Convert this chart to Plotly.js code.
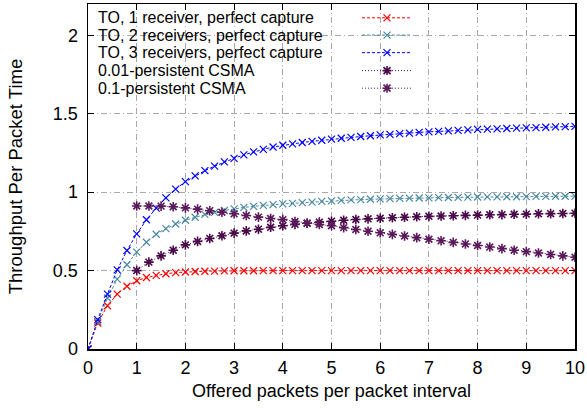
<!DOCTYPE html>
<html>
<head>
<meta charset="utf-8">
<script src="https://cdn.plot.ly/plotly-3.0.1.min.js"></script>
<style>html,body{margin:0;padding:0;background:#fff;}#chart{width:587px;height:408px;}</style>
</head>
<body>
<div id="chart"></div>
<script>
// ---- data ----
const seriesNames = [
  "TO, 1 receiver, perfect capture",
  "TO, 2 receivers, perfect capture",
  "TO, 3 receivers, perfect capture",
  "0.01-persistent CSMA",
  "0.1-persistent CSMA"
];
const xTO = [0,0.2,0.4,0.6,0.8,1,1.2,1.4,1.6,1.8,2,2.2,2.4,2.6,2.8,3,3.2,3.4,3.6,3.8,4,4.2,4.4,4.6,4.8,5,5.2,5.4,5.6,5.8,6,6.2,6.4,6.6,6.8,7,7.2,7.4,7.6,7.8,8,8.2,8.4,8.6,8.8,9,9.2,9.4,9.6,9.8,10];
const to1 = [0,0.166,0.276,0.350,0.400,0.435,0.456,0.470,0.480,0.487,0.491,0.494,0.496,0.497,0.498,0.499,0.499,0.499,0.5,0.5,0.5,0.5,0.5,0.5,0.5,0.5,0.5,0.5,0.5,0.5,0.5,0.5,0.5,0.5,0.5,0.5,0.5,0.5,0.5,0.5,0.5,0.5,0.5,0.5,0.5,0.5,0.5,0.5,0.5,0.5,0.5];
const to2 = [0,0.176,0.325,0.446,0.537,0.618,0.681,0.732,0.768,0.797,0.821,0.840,0.858,0.871,0.883,0.894,0.903,0.910,0.916,0.921,0.925,0.929,0.933,0.937,0.941,0.945,0.948,0.951,0.953,0.955,0.957,0.959,0.960,0.962,0.963,0.964,0.965,0.966,0.967,0.968,0.969,0.970,0.970,0.971,0.971,0.972,0.973,0.973,0.974,0.974,0.975];
const to3 = [0,0.187,0.350,0.505,0.628,0.734,0.824,0.898,0.964,1.020,1.067,1.104,1.137,1.166,1.193,1.216,1.238,1.257,1.273,1.288,1.299,1.308,1.317,1.324,1.331,1.338,1.344,1.350,1.355,1.360,1.365,1.369,1.373,1.377,1.381,1.385,1.388,1.391,1.394,1.397,1.400,1.402,1.404,1.406,1.408,1.410,1.412,1.414,1.416,1.418,1.420];
const xCSMA = [1,1.25,1.5,1.75,2,2.25,2.5,2.75,3,3.25,3.5,3.75,4,4.25,4.5,4.75,5,5.25,5.5,5.75,6,6.25,6.5,6.75,7,7.25,7.5,7.75,8,8.25,8.5,8.75,9,9.25,9.5,9.75,10];
const csma001 = [0.500,0.554,0.594,0.630,0.664,0.686,0.705,0.722,0.739,0.753,0.764,0.776,0.786,0.795,0.802,0.809,0.815,0.821,0.826,0.830,0.834,0.837,0.840,0.843,0.846,0.848,0.850,0.852,0.854,0.856,0.857,0.859,0.860,0.862,0.863,0.864,0.866];
const csma01 = [0.912,0.912,0.911,0.907,0.900,0.892,0.882,0.872,0.862,0.851,0.841,0.832,0.825,0.813,0.802,0.794,0.786,0.774,0.762,0.751,0.741,0.731,0.721,0.710,0.700,0.690,0.680,0.670,0.660,0.650,0.640,0.630,0.621,0.612,0.603,0.594,0.585];
const xTickVals = [0,1,2,3,4,5,6,7,8,9,10];
const yTickVals = [0,0.5,1,1.5,2];
const yTickText = ["0","0.5","1","1.5","2"];

// ---- styles ----
const colors = ["#ff0000", "#4a8aa0", "#0000ff", "#4a0a4a", "#5a1a5a"];
const FONT = "Liberation Sans, Arial, Helvetica, sans-serif";
const dashTO = "3px,2px";
const dotCS = "1px,2px";

function toTrace(x, y, i) {
  return {x: x, y: y, name: seriesNames[i], type: "scatter", mode: "lines+markers",
    line: {color: colors[i], width: 1, dash: dashTO},
    marker: {symbol: "x-thin-open", size: 7, line: {color: colors[i], width: 1.2}, color: colors[i]},
    showlegend: false};
}
function csTrace(x, y, i) {
  return {x: x, y: y, name: seriesNames[i], type: "scatter", mode: "lines+markers",
    line: {color: colors[i], width: 1, dash: dotCS},
    marker: {symbol: "asterisk-open", size: 8, line: {color: colors[i], width: 1.6}, color: colors[i]},
    showlegend: false};
}
const data = [
  toTrace(xTO, to1, 0), toTrace(xTO, to2, 1), toTrace(xTO, to3, 2),
  csTrace(xCSMA, csma001, 3), csTrace(xCSMA, csma01, 4)
];

// legend (gnuplot style: text left, sample right)
const rowY = [0.960, 0.910, 0.859, 0.807, 0.756];
const annotations = [];
const shapes = [];
seriesNames.forEach((n, i) => {
  annotations.push({xref: "paper", yref: "paper", x: 0.0175, y: rowY[i], xanchor: "left", yanchor: "middle",
    text: n, showarrow: false, borderpad: 0, font: {family: FONT, size: 16, color: "#000"}});
  shapes.push({type: "line", xref: "paper", yref: "paper", x0: 0.5626, x1: 0.6632, y0: rowY[i], y1: rowY[i],
    line: {color: colors[i], width: 1, dash: i < 3 ? dashTO : dotCS}});
  const p = i < 3 ? "M-3.5,-3.5L3.5,3.5M-3.5,3.5L3.5,-3.5"
                  : "M-3.5,-3.5L3.5,3.5M-3.5,3.5L3.5,-3.5M0,-4.5L0,4.5M-4.5,0L4.5,0";
  shapes.push({type: "path", xref: "paper", yref: "paper", xsizemode: "pixel", ysizemode: "pixel",
    xanchor: 0.614, yanchor: rowY[i], path: p, line: {color: colors[i], width: i < 3 ? 1.2 : 1.6}});
});

const axisCommon = {
  showline: true, linecolor: "#000", linewidth: 1.5, mirror: "ticks",
  ticks: "inside", ticklen: 6, tickwidth: 1, tickcolor: "#000",
  showgrid: true, gridcolor: "#a8a8a8", gridwidth: 1, griddash: "6px,3px,1px,3px",
  zeroline: false, tickfont: {family: FONT, size: 18, color: "#000"}
};
const layout = {
  width: 587, height: 408,
  margin: {l: 88, r: 12, t: 4, b: 59},
  paper_bgcolor: "#fff", plot_bgcolor: "#fff",
  showlegend: false,
  xaxis: Object.assign({}, axisCommon, {range: [0, 10], tickvals: xTickVals, ticklabelstandoff: 2,
    title: {text: "Offered packets per packet interval", font: {family: FONT, size: 18, color: "#000"}, standoff: 7}}),
  yaxis: Object.assign({}, axisCommon, {range: [0, 2.2], tickvals: yTickVals, ticktext: yTickText, ticklabelstandoff: 5,
    title: {text: "Throughput Per Packet Time", font: {family: FONT, size: 18.5, color: "#000"}, standoff: 25}}),
  annotations: annotations,
  shapes: shapes
};
Plotly.newPlot("chart", data, layout, {staticPlot: true, displayModeBar: false});
</script>
</body>
</html>
